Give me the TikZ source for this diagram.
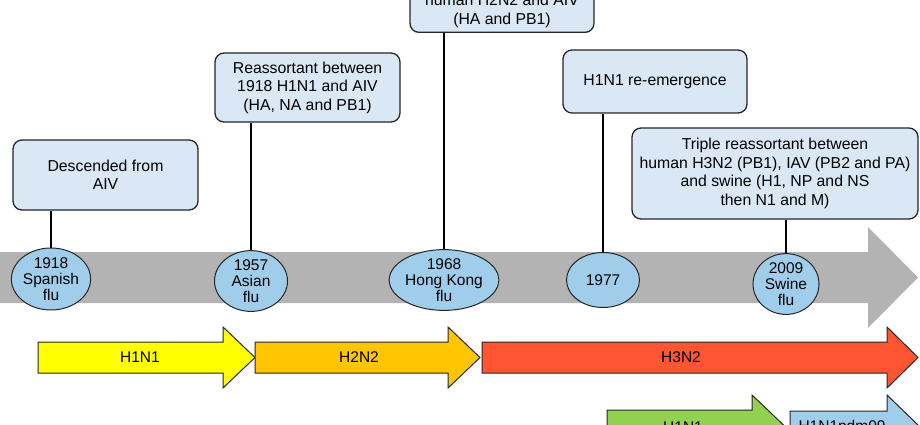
\documentclass[tikz,border=0pt]{standalone}
\usepackage{fontspec}
\setmainfont{Liberation Sans}
\usetikzlibrary{shapes.geometric}
\definecolor{boxfill}{HTML}{DAE8F5}
\definecolor{ellfill}{HTML}{9FCDEA}
\definecolor{grayband}{HTML}{B3B3B3}
\definecolor{yel}{HTML}{FFFF00}
\definecolor{ora}{HTML}{FFC600}
\definecolor{redd}{HTML}{FF5533}
\definecolor{grn}{HTML}{92D050}
\definecolor{blu}{HTML}{9FCDEA}
\begin{document}
\begin{tikzpicture}[x=1pt,y=-1pt,
  infobox/.style={draw=black!85, line width=1.3pt, rounded corners=9pt, fill=boxfill, align=center, inner sep=2pt, font=\fontsize{15.8}{18.5}\selectfont},
  yearell/.style={ellipse, draw=black!85, line width=1pt, fill=ellfill, align=center, inner sep=0pt, font=\fontsize{15.5}{16}\selectfont},
  link/.style={line width=1.5pt, draw=black},
  band/.style={draw=black!85, line width=1pt},
  lbl/.style={font=\fontsize{15.5}{18}\selectfont, inner sep=0pt}]
\useasboundingbox (0,0) rectangle (920,425);
\clip (0,0) rectangle (920,425);
\fill[white] (0,0) rectangle (920,425);

% grey timeline arrow
\fill[grayband] (0,252) -- (868,252) -- (868,227) -- (918,277.5) -- (868,328) -- (868,303) -- (0,303) -- cycle;

% info boxes
\node[infobox, minimum width=185pt, minimum height=70pt] (b1) at (105.5,175) {Descended from\\AIV};
\node[infobox, minimum width=185pt, minimum height=69pt] (b2) at (307.5,87.5) {Reassortant between\\1918 H1N1 and AIV\\(HA, NA and PB1)};
\node[infobox, minimum width=184pt, inner ysep=4.6pt, anchor=south] (b3) at (502,33) {\vphantom{H}\\human H2N2 and AIV\\(HA and PB1)};
\node[infobox, minimum width=184pt, minimum height=63pt] (b4) at (655,81.5) {H1N1 re-emergence};
\node[infobox, minimum width=286pt, minimum height=91pt] (b5) at (775,173.5) {Triple reassortant between\\human H3N2 (PB1), IAV (PB2 and PA)\\and swine (H1, NP and NS\\then N1 and M)};

% year ellipses
\node[yearell, minimum width=75pt, minimum height=62pt] (e1) at (51,279) {1918\\Spanish\\flu};
\node[yearell, minimum width=73pt, minimum height=58pt] (e2) at (251,281) {1957\\Asian\\flu};
\node[yearell, minimum width=86pt, minimum height=60pt] (e3) at (444,280) {1968\\Hong Kong\\flu};
\node[yearell, minimum width=73pt, minimum height=55pt] (e4) at (603,280) {1977};
\node[yearell, minimum width=66pt, minimum height=60pt] (e5) at (786,284) {2009\\Swine\\flu};

% connectors
\draw[link] (e1 |- b1.south) -- (e1.north);
\draw[link] (e2 |- b2.south) -- (e2.north);
\draw[link] (e3 |- b3.south) -- (e3.north);
\draw[link] (e4 |- b4.south) -- (e4.north);
\draw[link] (e5 |- b5.south) -- (e5.north);

% subtype arrows
\filldraw[band, fill=yel] (38,342) -- (223,342) -- (223,327) -- (255,357.5) -- (223,388) -- (223,373) -- (38,373) -- cycle;
\filldraw[band, fill=ora] (255,342) -- (448,342) -- (448,327) -- (480,357.5) -- (448,388) -- (448,373) -- (255,373) -- cycle;
\filldraw[band, fill=redd] (482,342) -- (887,342) -- (887,327) -- (918,357.5) -- (887,388) -- (887,373) -- (482,373) -- cycle;
\filldraw[band, fill=grn] (607,410) -- (752,410) -- (752,395) -- (784,425.5) -- (752,456) -- (752,441) -- (607,441) -- cycle;
\filldraw[band, fill=blu] (790,411) -- (887,411) -- (887,395) -- (919,426) -- (887,457) -- (887,441) -- (790,441) -- cycle;

\node[lbl] (l1) at (140,357.5) {H1N1};
\node[lbl] (l2) at (359,357.5) {H2N2};
\node[lbl] (l3) at (681,357.5) {H3N2};
\node[lbl] (l4) at (683,427) {H1N1};
\node[lbl] (l5) at (842,427) {H1N1pdm09};
\end{tikzpicture}
\end{document}
